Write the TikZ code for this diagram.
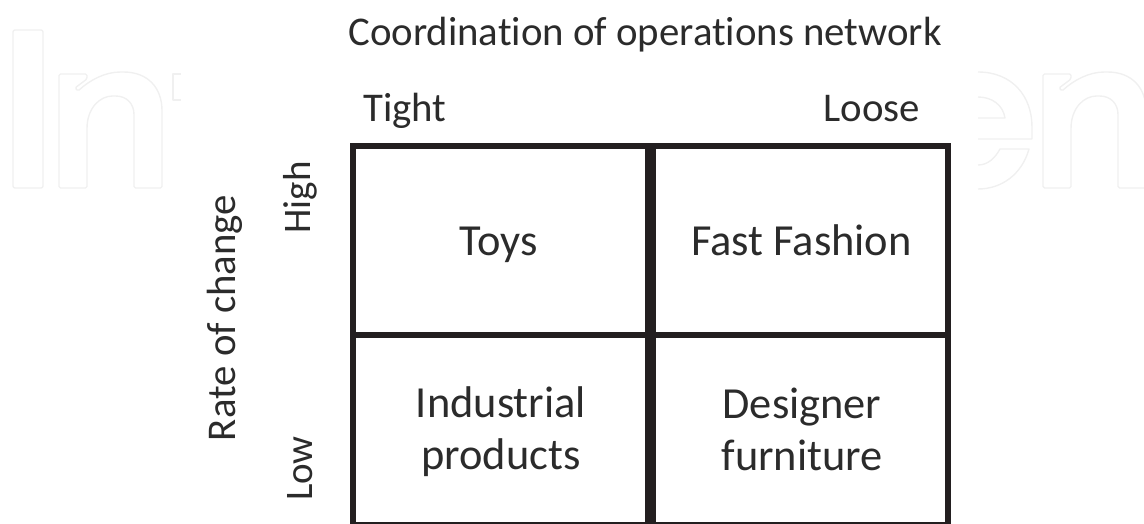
\documentclass[tikz,border=0pt]{standalone}
\usepackage{fontspec}
\setmainfont[Ligatures=NoCommon]{Carlito}
\tikzset{
  cell/.style={draw=cellink, line width=6pt, inner sep=0pt},
  axislabel/.style={inner sep=0pt, text=labelink, anchor=base},
  levellabel/.style={axislabel, rotate=90, font=\fontsize{39}{47}\selectfont},
  celllabel/.style={inner sep=0pt, text=labelink, align=center, font=\fontsize{44.4}{52}\selectfont}
}
\tikzset{mark line/.style={draw=markgray, line width=1.4pt, line join=round}}
\definecolor{cellink}{HTML}{231F20}
\definecolor{labelink}{HTML}{2B2B2B}
\definecolor{markgray}{HTML}{F0F0F0}
\begin{document}
\begin{tikzpicture}[x=1pt, y=-1pt, font=\fontsize{40.8}{52}\selectfont]
    \useasboundingbox (0,0) rectangle (1144,524);
    \clip (0,0) rectangle (1144,524);
    % faint letters behind the matrix
    \draw[mark line, rounded corners=2pt] (13,30) rectangle (43,188);
    \foreach \dx in {0,984} {
      \draw[mark line, xshift=\dx pt, rounded corners=1.5pt] (59,188) -- (59,74) -- (87,74) -- (87,79) -- (75,88) -- (78,91)
        .. controls (90,80) and (105,72) .. (122,72) .. controls (148,72) and (162,88) .. (162,112) -- (162,188) -- (134,188)
        -- (134,116) .. controls (134,104) and (127,96) .. (114,96) .. controls (100,96) and (87,108) .. (87,130) -- (87,188) -- cycle;
    }
    \draw[mark line] (181,74) -- (173,74) -- (173,100) -- (181,100);% cut t
    \draw[mark line] (978,72) .. controls (1012,72) and (1032,96) .. (1032,127) -- (1032,139) -- (978,139);% outer e
    \draw[mark line] (978,97) .. controls (992,97) and (1003,105) .. (1005,118) -- (978,118);% inner e
    \draw[mark line] (978,165) .. controls (988,165) and (995,158) .. (1000,149) -- (1029,149)
      .. controls (1022,174) and (1002,189) .. (978,189);% lower e
    % title and headers
    \node[axislabel] (title) at (645,45.5) {Coordination of operations network};
    \node[axislabel] (tight) at (405,122) {Tight};
    \node[axislabel] (loose) at (872,122) {Loose};
    % cells
    \node[cell, minimum width=295pt, minimum height=188.5pt] (toysbox) at (500.5,240.25) {};
    \node[cell, minimum width=295pt, minimum height=188.5pt] (fashionbox) at (800.5,240.25) {};
    \node[cell, minimum width=295pt, minimum height=190.5pt] (industrialbox) at (500.5,429.75) {};
    \node[cell, minimum width=295pt, minimum height=190.5pt] (designerbox) at (800.5,429.75) {};
    % cell texts
    \node[celllabel, anchor=base] (toys) at (498.5,255) {Toys};
    \node[celllabel, anchor=base] (fashion) at (801.5,255) {Fast Fashion};
    \node[celllabel] (industrial) at (501,432) {Industrial\\products};
    \node[celllabel] (designer) at (802,429) {Designer\\furniture};
    % side labels
    \node[levellabel] (high) at (310,197.5) {High};
    \node[levellabel] (low) at (312,468.5) {Low};
    \node[axislabel, rotate=90] (rate) at (235,318) {Rate of change};
  \end{tikzpicture}
\end{document}
